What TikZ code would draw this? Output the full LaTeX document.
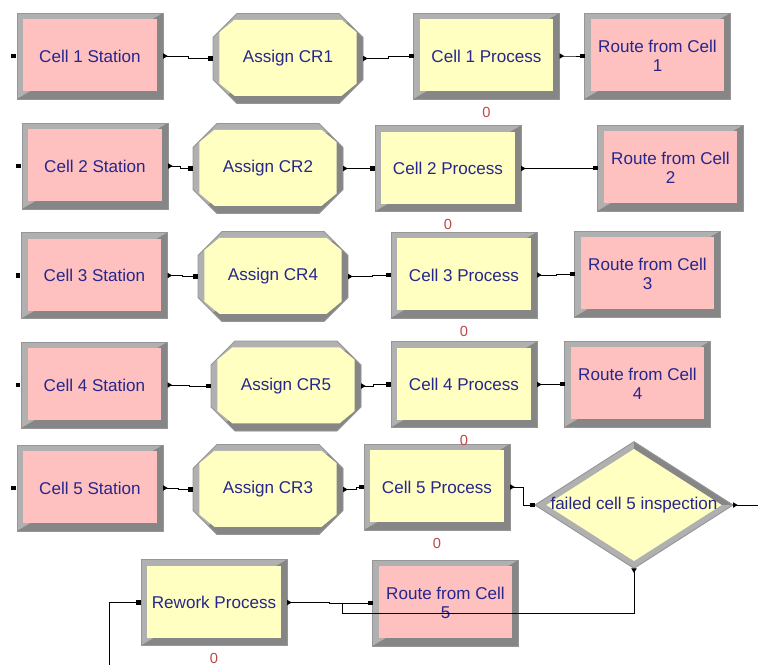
\documentclass[tikz,border=0pt]{standalone}
\usepackage{fontspec}
\setmainfont{Liberation Sans}
\usetikzlibrary{shapes.misc,shapes.geometric,arrows.meta,positioning}
\definecolor{stationpink}{RGB}{255,192,192}
\definecolor{procyellow}{RGB}{255,255,194}
\definecolor{bevlight}{RGB}{176,176,176}
\definecolor{bevdark}{RGB}{134,134,134}
\definecolor{bevline}{RGB}{150,150,150}
\definecolor{arenablue}{RGB}{38,38,140}
\definecolor{counterred}{RGB}{190,70,70}
\newcommand{\blockfont}{\fontsize{12.8}{14}\selectfont}
\newcommand{\cntfont}{\fontsize{11}{11}\selectfont}
\begin{document}
\begin{tikzpicture}[x=0.75pt,y=-0.75pt,inner sep=0pt,outer sep=0pt,line width=0.7pt,
bevbox/.style={rectangle,draw=bevline,fill=bevlight,minimum width=109.5pt,minimum height=64.5pt,
  align=center,font=\blockfont,text=arenablue,
  path picture={
    \coordinate (pnw) at (path picture bounding box.north west);
    \coordinate (pne) at (path picture bounding box.north east);
    \coordinate (pse) at (path picture bounding box.south east);
    \coordinate (psw) at (path picture bounding box.south west);
    \fill[bevdark] (pne) -- (pse) -- (psw) -- cycle;
    \fill[#1] ([shift={(4.8pt,-4.8pt)}]pnw) rectangle ([shift={(-4.8pt,5.8pt)}]pse);}},
station/.style={bevbox=stationpink},
process/.style={bevbox=procyellow},
assign/.style={chamfered rectangle,chamfered rectangle xsep=14pt,chamfered rectangle ysep=12pt,
  draw=bevline,fill=bevlight,minimum width=112.5pt,minimum height=67.5pt,font=\blockfont,text=arenablue,
  path picture={
    \coordinate (pnw) at (path picture bounding box.north west);
    \coordinate (pne) at (path picture bounding box.north east);
    \coordinate (pse) at (path picture bounding box.south east);
    \coordinate (psw) at (path picture bounding box.south west);
    \fill[bevdark] (pne) -- (pse) -- (psw) -- cycle;
    \fill[procyellow] ([shift={(16pt,-4.8pt)}]pnw) -- ([shift={(-16pt,-4.8pt)}]pne)
      -- ([shift={(-4.8pt,-14pt)}]pne) -- ([shift={(-4.8pt,15pt)}]pse)
      -- ([shift={(-16pt,5.8pt)}]pse) -- ([shift={(16pt,5.8pt)}]psw)
      -- ([shift={(4.8pt,15pt)}]psw) -- ([shift={(4.8pt,-14pt)}]pnw) -- cycle;}},
decide/.style={diamond,aspect=1.56,draw=bevline,fill=bevlight,minimum width=148.5pt,minimum height=95pt,
  font=\blockfont,text=arenablue,
  path picture={
    \fill[bevdark] (path picture bounding box.center) rectangle (path picture bounding box.north east);
    \fill[procyellow] ([yshift=-5.5pt]path picture bounding box.north) -- ([xshift=-8.5pt]path picture bounding box.east)
      -- ([yshift=5.5pt]path picture bounding box.south) -- ([xshift=8.5pt]path picture bounding box.west) -- cycle;}},
inport/.style={rectangle,fill=black,minimum size=3.6pt},
queuecnt/.style={font=\cntfont,text=counterred},
flow/.style={{Triangle[reversed,length=3.5pt,width=4pt]}-{Square[length=3.6pt,width=3.6pt]}},
outflow/.style={{Triangle[reversed,length=3.5pt,width=4pt]}-},
inflow/.style={-{Square[length=3.6pt,width=3.6pt]}}]
\useasboundingbox (0,0) rectangle (758,665);
% cell 1
\draw (90,56) node[station] (st1) {Cell 1 Station};
\draw (288,58.5) node[assign] (as1) {Assign CR1};
\draw (486.5,56) node[process] (pr1) {Cell 1 Process};
\draw (657.5,56) node[station] (rt1) {Route from Cell\\1};
% cell 2
\draw (95,166) node[station] (st2) {Cell 2 Station};
\draw (268,168.5) node[assign] (as2) {Assign CR2};
\draw (448,168.5) node[process] (pr2) {Cell 2 Process};
\draw (670.5,168) node[station] (rt2) {Route from Cell\\2};
% cell 3
\draw (94.5,275.5) node[station] (st3) {Cell 3 Station};
\draw (273,276.5) node[assign] (as3) {Assign CR4};
\draw (464,275) node[process] (pr3) {Cell 3 Process};
\draw (647.5,274) node[station] (rt3) {Route from Cell\\3};
% cell 4
\draw (94.5,385) node[station] (st4) {Cell 4 Station};
\draw (286,386) node[assign] (as4) {Assign CR5};
\draw (464,384.5) node[process] (pr4) {Cell 4 Process};
\draw (637.5,384) node[station] (rt4) {Route from Cell\\4};
% cell 5 and rework
\draw (90,488) node[station] (st5) {Cell 5 Station};
\draw (268,489.5) node[assign] (as5) {Assign CR3};
\draw (437,487) node[process] (pr5) {Cell 5 Process};
\draw (634,505) node[decide] (dec5) {failed cell 5 inspection};
\draw (214,602.5) node[process] (rw) {Rework Process};
\draw (445.5,603) node[station] (rt5) {Route from Cell\\5};
% entry ports
\foreach \s in {st1,st2,st3,st4,st5}
  \node[inport,left=0.8pt of \s] {};
% queue counters
\foreach \p in {pr1,pr2,pr3,pr4,pr5,rw}
  \node[queuecnt,below=6pt of \p] {0};
% connections
\draw[flow] (st1.east) -- ++(25,0) |- (as1.west);
\draw[flow] (as1.east) -- ++(25,0) |- (pr1.west);
\draw[flow] (pr1.east) -- ++(13,0) |- (rt1.west);
\draw[flow] (st2.east) -- ++(12,0) |- (as2.west);
\draw[flow] (as2.east) -- ++(19,0) |- (pr2.west);
\draw[flow] (pr2.east) -- ++(41,0) |- (rt2.west);
\draw[flow] (st3.east) -- ++(15,0) |- (as3.west);
\draw[flow] (as3.east) -- ++(24,0) |- (pr3.west);
\draw[flow] (pr3.east) -- ++(19,0) |- (rt3.west);
\draw[flow] (st4.east) -- ++(22,0) |- (as4.west);
\draw[flow] (as4.east) -- ++(12,0) |- (pr4.west);
\draw[flow] (pr4.east) -- ++(15,0) |- (rt4.west);
\draw[flow] (st5.east) -- ++(15,0) |- (as5.west);
\draw[flow] (as5.east) -- ++(13,0) |- (pr5.west);
\draw[flow] (pr5.east) -- ++(13,0) |- (dec5.west);
\coordinate (out5) at (758,505);
\draw[outflow] (dec5.east) -- (out5);
\coordinate (j5) at (342,603);
\draw[outflow] (dec5.south) -- ++(0,45) -| (j5);
\draw[flow] (rw.east) -- ++(42,0) |- (rt5.west);
\coordinate (rwin) at (109,665);
\draw[inflow] (rwin) |- (rw.west);
\end{tikzpicture}
\end{document}
